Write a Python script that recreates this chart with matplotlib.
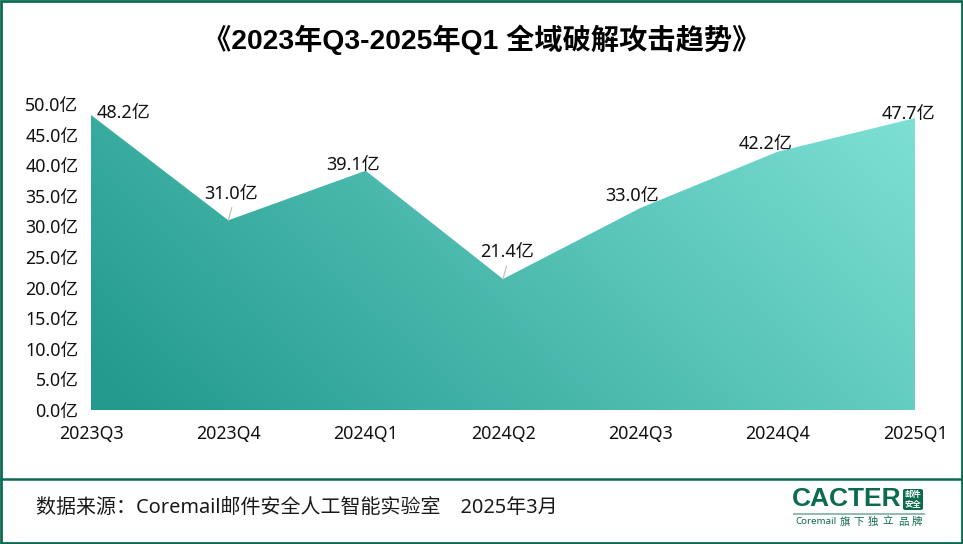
import numpy as np
from matplotlib import pyplot as plt
from matplotlib.colors import LinearSegmentedColormap
from matplotlib.patches import Rectangle, FancyBboxPatch

plt.rcParams['font.family'] = ['Noto Sans', 'Noto Sans CJK SC', 'DejaVu Sans']
BOLD_FONT = ['Liberation Sans', 'Noto Sans CJK SC', 'DejaVu Sans']

W, H = 963, 544
GREEN = "#0b6b50"

quarters = ["2023Q3", "2023Q4", "2024Q1", "2024Q2", "2024Q3", "2024Q4", "2025Q1"]
attacks = [48.2, 31.0, 39.1, 21.4, 33.0, 42.2, 47.7]
y_ticks = [0, 5, 10, 15, 20, 25, 30, 35, 40, 45, 50]
# label offset in px from the point, leader line or not
label_offsets = [(32, 2), (3, 26), (-13, 6), (4, 27), (-8, 12), (-12, 8), (-7, 4)]
leaders = [False, True, False, True, False, False, False]

fig = plt.figure(figsize=(W / 100, H / 100), dpi=100)

# page furniture, in pixels
bg = fig.add_axes([0, 0, 1, 1])
bg.set_xlim(0, W)
bg.set_ylim(H, 0)
bg.axis("off")
bg.add_patch(Rectangle((1, 1), W - 2, H - 2, fill=False, ec=GREEN, lw=2))
bg.plot([1, W - 1], [479, 479], color=GREEN, lw=1.8)
bg.text(482, 40, "《2023年Q3-2025年Q1 全域破解攻击趋势》", ha="center", va="center",
        fontsize=20.3, fontweight="bold", color="#000000", family=BOLD_FONT)
bg.text(36, 508, "数据来源：Coremail邮件安全人工智能实验室　2025年3月", ha="left", va="center",
        fontsize=14.4, color="#1a1a1a")

# logo
bg.text(792, 499, "CACTER", ha="left", va="center", fontsize=19, fontweight="bold", color=GREEN,
        family=BOLD_FONT)
bg.add_patch(FancyBboxPatch((903, 489), 20, 21, boxstyle="round,pad=0,rounding_size=2",
                            fc=GREEN, ec="none"))
bg.text(913, 495, "邮件", ha="center", va="center", fontsize=6, color="white", fontweight="bold",
        family=BOLD_FONT)
bg.text(913, 504.5, "安全", ha="center", va="center", fontsize=6, color="white", fontweight="bold",
        family=BOLD_FONT)
bg.plot([794, 924], [513.5, 513.5], color="#7fae9f", lw=1.2)
bg.text(795, 522, "Coremail", ha="left", va="center", fontsize=7, color=GREEN)
for x, ch in zip([845, 859, 873, 888, 903, 917], "旗下独立品牌"):
    bg.text(x, 522, ch, ha="center", va="center", fontsize=7.5, color=GREEN)

# chart
left, right, top, bottom = 91, 915, 104, 410
ax = fig.add_axes([left / W, 1 - bottom / H, (right - left) / W, (bottom - top) / H])
ax.patch.set_alpha(0)
x = np.arange(len(quarters))
ax.set_xlim(0, len(quarters) - 1)
ax.set_ylim(0, 50)

area = ax.fill_between(x, attacks, 0, color="none")
cmap = LinearSegmentedColormap.from_list("teal", ["#229a8d", "#7fe1d6"])
gx, gy = np.meshgrid(np.linspace(0, 1, 300), np.linspace(0, 1, 200))
grad = ax.imshow(gx * 0.72 + gy * 0.28, extent=[0, len(quarters) - 1, 0, 50], origin="lower",
                 aspect="auto", cmap=cmap, vmin=0.03, vmax=1.0, zorder=1)
grad.set_clip_path(area.get_paths()[0], transform=ax.transData)

for i, v in enumerate(attacks):
    dx, dy = label_offsets[i]
    ax.annotate(f"{v:.1f}亿", (i, v), xytext=(dx * 0.72, dy * 0.72), textcoords="offset points",
                ha="center", va="center", fontsize=13, color="#111111", zorder=3)
    if leaders[i]:
        ax.annotate("", (i, v), xytext=(3.5 * 0.72, 13 * 0.72), textcoords="offset points",
                    arrowprops=dict(arrowstyle="-", color="#bbbbbb", lw=0.8, shrinkA=0, shrinkB=0), zorder=3)

ax.set_xticks(x, quarters)
ax.set_yticks(y_ticks, [f"{t:.1f}亿" for t in y_ticks])
ax.tick_params(length=0, labelsize=12.8, labelcolor="#111111")
ax.tick_params(axis="x", pad=10.5)
ax.tick_params(axis="y", pad=9)
for s in ax.spines.values():
    s.set_visible(False)

fig.savefig("out.png", dpi=100)
plt.close()
